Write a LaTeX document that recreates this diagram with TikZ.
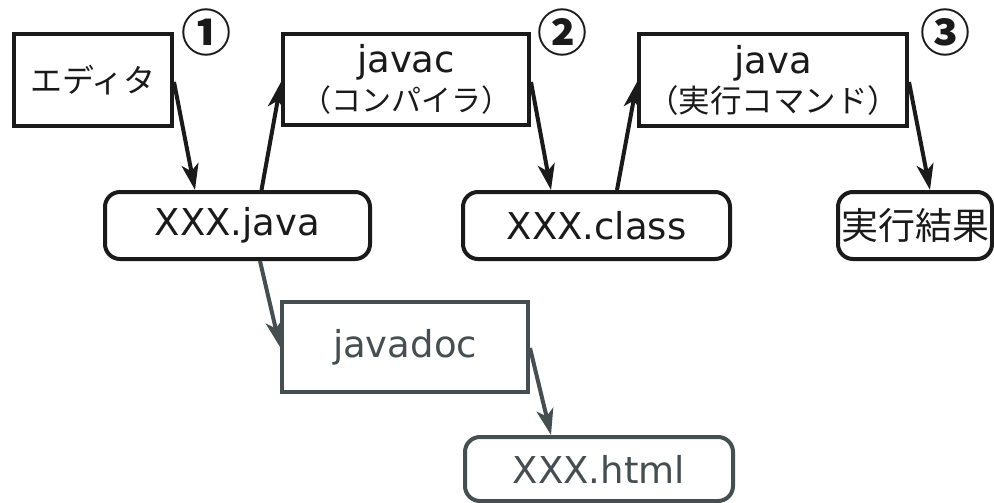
\documentclass[tikz,border=0pt]{standalone}
\usepackage{fontspec}
\setmainfont{DejaVu Sans}
\newfontfamily\jp{Noto Sans CJK JP}
\usetikzlibrary{arrows.meta,calc}
\definecolor{ink}{RGB}{26,26,26}
\definecolor{slate}{RGB}{69,78,80}
\tikzset{
  boxbase/.style={draw=ink, text=ink, line width=4pt, inner sep=0pt, align=center},
  toolbox/.style={boxbase},
  filebox/.style={boxbase, rounded corners=15pt},
  docstyle/.style={draw=slate, text=slate},
  flow/.style={draw=ink, line width=4pt, -{Stealth[length=26pt,width=17pt,inset=7pt]}},
  docflow/.style={flow, draw=slate},
  latin/.style={font=\fontsize{37}{40}\selectfont},
  stepnum/.style={text=ink, font=\jp\bfseries\fontsize{50}{50}\selectfont, inner sep=0pt}
}
\begin{document}
\begin{tikzpicture}[x=1pt,y=-1pt]
\useasboundingbox (0,0) rectangle (994,503);

% tools (square boxes)
\node[toolbox, minimum width=158pt, minimum height=92pt, font=\jp\fontsize{32}{36}\selectfont]
  (editor) at (93,80) {エディタ};
\node[toolbox, minimum width=246pt, minimum height=91pt, font=\fontsize{37}{39}\selectfont]
  (javac) at (406,79.5) {javac\\{\jp\fontsize{30}{32}\selectfont （コンパイラ）}};
\node[toolbox, minimum width=268pt, minimum height=92pt, font=\fontsize{37}{39}\selectfont]
  (javacmd) at (773,80) {java\\{\jp\fontsize{31.5}{32}\selectfont （実行コマンド）}};
\node[toolbox, docstyle, minimum width=246pt, minimum height=90pt, latin]
  (javadoc) at (405,347) {javadoc};

% files and results (rounded boxes)
\node[filebox, minimum width=265pt, minimum height=67pt, latin]
  (javafile) at (237.5,225.5) {XXX.java};
\node[filebox, minimum width=267pt, minimum height=67pt, latin]
  (classfile) at (596.5,225.5) {XXX.class};
\node[filebox, minimum width=154pt, minimum height=67pt, font=\jp\fontsize{37}{40}\selectfont]
  (result) at (915,225.5) {実行結果};
\node[filebox, docstyle, minimum width=268pt, minimum height=64pt, latin]
  (html) at (599,469) {XXX.html};

% step numbers
\node[stepnum] (n1) at (206,33) {①};
\node[stepnum] (n2) at (562,33) {②};
\node[stepnum] (n3) at (945,33) {③};

% flow of files through the tools
\draw[flow] ($(editor.east)+(0,2)$) -- ($(javafile.north)+(-42.5,0)$);
\draw[flow] ($(javafile.north)+(24,0)$) -- ($(javac.west)+(0,2.5)$);
\draw[flow] ($(javac.east)+(0,2.5)$) -- ($(classfile.north)+(-45.5,0)$);
\draw[flow] ($(classfile.north)+(20.5,0)$) -- ($(javacmd.west)+(0,2)$);
\draw[flow] ($(javacmd.east)+(0,2)$) -- ($(result.north)+(15,0)$);
\draw[docflow] ($(javafile.south)+(22.5,0)$) -- ($(javadoc.west)+(0,0)$);
\draw[docflow] ($(javadoc.east)+(0,1)$) -- ($(html.north)+(-48,0)$);
\end{tikzpicture}
\end{document}
